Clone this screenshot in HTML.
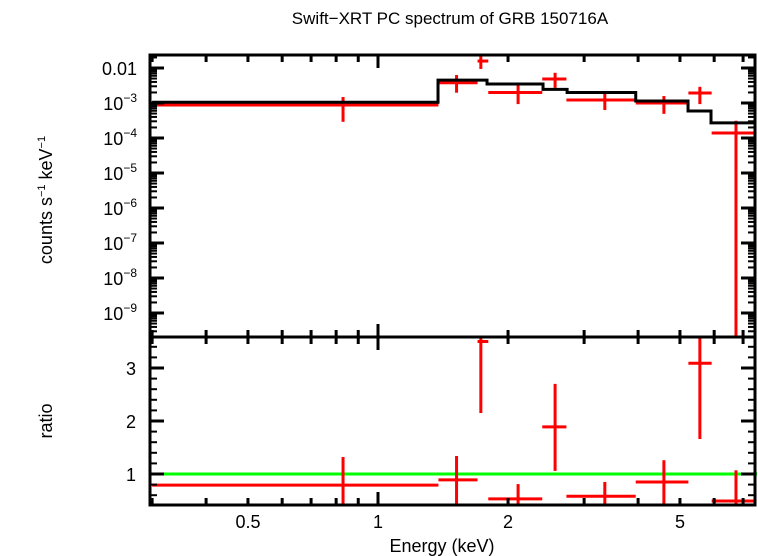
<!DOCTYPE html>
<html><head><meta charset="utf-8"><style>
body{margin:0;background:#fff}
svg{display:block;font-family:"Liberation Sans",sans-serif}
</style></head><body>
<svg id="c" width="758" height="556">
<text x="450" y="24" text-anchor="middle" font-size="17">Swift−XRT PC spectrum of GRB 150716A</text>
<text transform="translate(52,200) rotate(-90)" text-anchor="middle" font-size="18">counts s<tspan font-size="11" dy="-7">−1</tspan><tspan dy="7"> keV</tspan><tspan font-size="11" dy="-7">−1</tspan></text>
<text transform="translate(52,421) rotate(-90)" text-anchor="middle" font-size="18">ratio</text>
<text x="442" y="552" text-anchor="middle" font-size="18">Energy (keV)</text>
</svg>
<script>
const binLo=[0.3,1.38,1.70,1.80,2.40,2.73,3.95,5.23,5.92];
const binHi=[1.38,1.70,1.80,2.40,2.73,3.95,5.23,5.92,7.46];
const binMid=[0.83,1.52,1.73,2.11,2.57,3.35,4.59,5.56,6.74];
const rate=[8.8e-4,3.8e-3,0.0158,2.0e-3,4.85e-3,1.22e-3,1.0e-3,1.93e-3,1.39e-4];
const rateHi=[1.48e-3,6.3e-3,0.0235,3.3e-3,7.3e-3,2.1e-3,1.58e-3,2.9e-3,3.1e-4];
const rateLo=[2.9e-4,1.97e-3,9.4e-3,9.3e-4,2.7e-3,6.3e-4,4.9e-4,9.3e-4,1e-12];
const modelEdges=[0.3,1.377,1.788,2.41,2.74,3.95,5.22,5.9,7.46];
const modelVals=[1.05e-3,4.5e-3,3.5e-3,2.46e-3,2.0e-3,1.14e-3,5.9e-4,2.7e-4];
const ratio=[0.79,0.89,3.5,0.53,1.89,0.58,0.85,3.09,0.49];
const ratioHi=[1.32,1.34,3.7,0.81,2.7,0.85,1.26,3.7,1.07];
const ratioLo=[0.3,0.3,2.15,0.3,1.06,0.3,0.3,1.66,0.3];
const xTicksMajor=[0.5,1,2,5];
const xTickLabels=["0.5","1","2","5"];
const yDecades=[-2,-3,-4,-5,-6,-7,-8,-9];
const rTicks=[1,2,3];

const L=150,R=755,T1=55,B1=337,T2=337,B2=505;
const X=e=>378+432*Math.log10(e);
const Y1=v=>{let y=68+35*(-2-Math.log10(v));return Math.max(T1,Math.min(B1,y));};
const Y2=r=>{let y=474-53*(r-1);return Math.max(T2,Math.min(B2,y));};
const svg=document.getElementById('c');const NS='http://www.w3.org/2000/svg';
function el(t,a){const e=document.createElementNS(NS,t);for(const k in a)e.setAttribute(k,a[k]);svg.appendChild(e);return e;}
function ln(x1,y1,x2,y2,c,w){return el('line',{x1,y1,x2,y2,stroke:c,'stroke-width':w});}
for(let i=0;i<rate.length;i++){
 const h=ln(X(binLo[i]),Y1(rate[i]),X(binHi[i]),Y1(rate[i]),'#f00',3);
 
 
 const v=ln(X(binMid[i]),Y1(rateHi[i]),X(binMid[i]),Y1(rateLo[i]),'#f00',3);
 
 
}
let d='';
for(let i=0;i<modelVals.length;i++){
 const y=Y1(modelVals[i]);
 d+=(i?'L':'M')+X(modelEdges[i])+' '+y+'L'+Math.min(R,X(modelEdges[i+1]))+' '+y;
}
const m=el('path',{d,fill:'none',stroke:'#000','stroke-width':3});


const g=ln(L,Y2(1),R+2,Y2(1),'#0f0',3);


for(let i=0;i<ratio.length;i++){
 const h=ln(X(binLo[i]),Y2(ratio[i]),X(binHi[i]),Y2(ratio[i]),'#f00',3);
 
 
 const v=ln(X(binMid[i]),Y2(ratioHi[i]),X(binMid[i]),Y2(ratioLo[i]),'#f00',3);
 
 
}
const f1=el('rect',{x:L,y:T1,width:R-L,height:B1-T1,fill:'none',stroke:'#000','stroke-width':3});


const f2=el('rect',{x:L,y:T2,width:R-L,height:B2-T2,fill:'none',stroke:'#000','stroke-width':3});


const minors=[0.3,0.4,0.5,0.6,0.7,0.8,0.9,2,3,4,5,6,7];
for(const e of minors){const x=X(e);for(const [a,b] of [[T1,1],[B1,-1],[T2,1],[B2,-1]])ln(x,a,x,a+7*b,'#000',3);}
{const x=X(1);for(const [a,b] of [[T1,1],[B1,-1],[T2,1],[B2,-1]])ln(x,a,x,a+13*b,'#000',3);}
xTicksMajor.forEach((e,i)=>{const t=el('text',{x:X(e),y:528,'text-anchor':'middle','font-size':18});t.textContent=xTickLabels[i];
 
 });
for(const dd of yDecades){
 const y=Y1(Math.pow(10,dd));ln(L,y,L+14,y,'#000',3);ln(R,y,R-14,y,'#000',3);
 for(let k=2;k<10;k++){const yy=68+35*(-2-(dd+Math.log10(k)));if(yy>T1&&yy<B1){ln(L,yy,L+7,yy,'#000',2);ln(R,yy,R-7,yy,'#000',2);}}
 const t=el('text',{x:137,y:y+7,'text-anchor':'end','font-size':18});
 
 
 if(dd==-2){t.textContent='0.01';}
 else{t.innerHTML='10<tspan font-size="12" dy="-8">−'+(-dd)+'</tspan>';}
}
for(let dd=-10;dd<-9;dd++){for(let k=2;k<10;k++){const y2=68+35*(-2-(dd+Math.log10(k)));if(y2>T1&&y2<B1){ln(L,y2,L+7,y2,'#000',2);ln(R,y2,R-7,y2,'#000',2);}}}
for(let r=0.6;r<3.6;r+=0.2){const y=Y2(r);ln(L,y,L+7,y,'#000',2);ln(R,y,R-7,y,'#000',2);}
for(const r of rTicks){const y=Y2(r);ln(L,y,L+14,y,'#000',3);ln(R,y,R-14,y,'#000',3);
 const t=el('text',{x:136,y:y+7,'text-anchor':'end','font-size':18});t.textContent=r;
 
 }
</script>
</body></html>
